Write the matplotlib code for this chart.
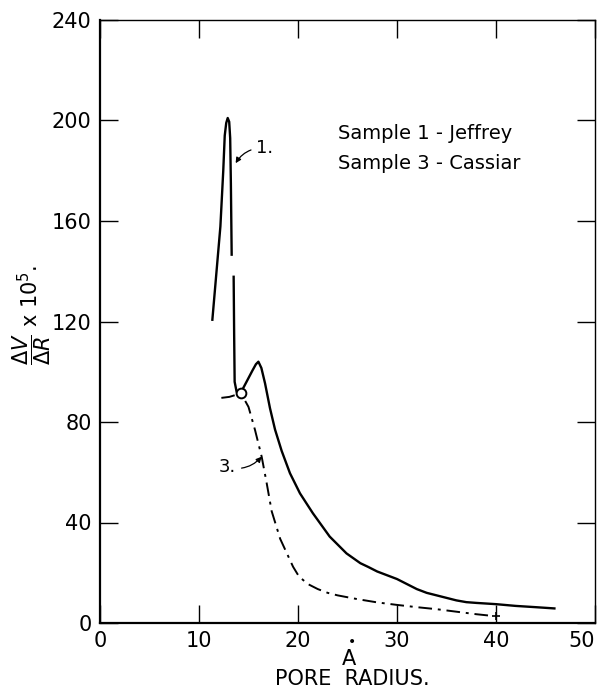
import numpy as np
import matplotlib
matplotlib.use("Agg")
import matplotlib.pyplot as plt

# sample 1 (Jeffrey) - solid, broken near the top of the spike
r1 = [11.35, 12.16, 12.45, 12.6, 12.75, 12.9, 13.05, 13.15, 13.22, 13.3, np.nan,
      13.5, 13.55, 13.6, 13.8, 14.2, 14.6, 15.0, 15.4, 15.75, 16.0, 16.3,
      16.67, 17.17, 17.68, 18.35, 19.19, 20.2, 21.5, 23.2, 24.9, 26.3,
      27.1, 28.0, 29.0, 30.0, 31.0, 32.0, 33.0, 34.0, 35.0, 36.0, 37.0, 38.0,
      40.0, 42.0, 44.0, 45.9]
v1 = [120.7, 157.8, 180, 194, 199, 201, 199.5, 193, 175, 146.6, np.nan,
      137.8, 115, 96, 92, 91.5, 94.5, 97.5, 100.5, 103, 104, 101.5,
      95.4, 85.5, 77, 68.5, 59.6, 51.6, 43.7, 34.4, 27.7, 23.8,
      22.3, 20.5, 19, 17.5, 15.5, 13.5, 12, 11, 10, 9, 8.3, 8,
      7.5, 6.8, 6.3, 5.8]

# sample 3 (Cassiar) - dash-dot
r3 = [12.26, 13.07, 13.9, 14.3, 15.0, 15.66, 16.33, 16.84, 17.34, 18.2, 19.5,
      20.1, 21.0, 22.0, 23.0, 24.0, 26.0, 28.0, 30.0, 32.0, 34.0, 36.0, 38.0, 39.7]
v3 = [89.6, 90, 91, 91, 86, 76.8, 66.2, 55.6, 44.5, 33.5, 22.4,
      18.5, 15.5, 13.5, 12, 11, 9.5, 8.2, 7.2, 6.3, 5.5, 4.5, 3.5, 2.8]

xticks = [0, 10, 20, 30, 40, 50]
yticks = [0, 40, 80, 120, 160, 200, 240]

fig = plt.figure(figsize=(5.98, 6.92), dpi=100)
ax = fig.add_axes([100/598, 1 - 623/692, 495/598, 603/692])

ax.plot(r1, v1, color="black", lw=1.7)
ax.plot(r3, v3, color="black", lw=1.4, linestyle=(0, (7, 3, 1.5, 3)))
ax.plot([14.2], [91.5], marker="o", ms=7, mfc="white", mec="black", mew=1.4)
ax.plot([40], [2.8], marker="+", ms=6, color="black", mew=1.2)

ax.set_xlim(0, 50)
ax.set_ylim(0, 240)
ax.set_xticks(xticks)
ax.set_yticks(yticks)
ax.tick_params(direction="in", length=13, width=1, labelsize=15,
               top=True, right=True, pad=6)
labs = ax.get_xticklabels()
labs[-1].set_ha("right")
for s in ["left", "bottom"]:
    ax.spines[s].set_linewidth(1.6)
for s in ["top", "right"]:
    ax.spines[s].set_linewidth(1.0)

ax.text(24.0, 195, "Sample 1 - Jeffrey", fontsize=14, va="center")
ax.text(24.0, 183, "Sample 3 - Cassiar", fontsize=14, va="center")

ax.annotate("1.", xy=(13.7, 183), xytext=(15.8, 189), fontsize=13, va="center",
            arrowprops=dict(arrowstyle="-|>", color="black", lw=0.9,
                            connectionstyle="arc3,rad=0.3", shrinkA=2, shrinkB=0,
                            mutation_scale=8))
ax.annotate("3.", xy=(16.33, 66.2), xytext=(12.0, 62), fontsize=13, va="center",
            arrowprops=dict(arrowstyle="-|>", color="black", lw=0.9,
                            connectionstyle="arc3,rad=0.3", shrinkA=2, shrinkB=0,
                            mutation_scale=8))

fig.text(32/598, 1 - 315/692, r"$\dfrac{\Delta V}{\Delta R}$ x 10$^5$.",
         rotation=90, ha="center", va="center", fontsize=15)
fig.text(352/598, 1 - 642/692, "\u2022", ha="center", va="center", fontsize=10)
fig.text(349/598, 1 - 659/692, "A", ha="center", va="center", fontsize=15)
fig.text(352/598, 1 - 679/692, "PORE  RADIUS.", ha="center", va="center", fontsize=15)

fig.savefig("out.png", dpi=100)
